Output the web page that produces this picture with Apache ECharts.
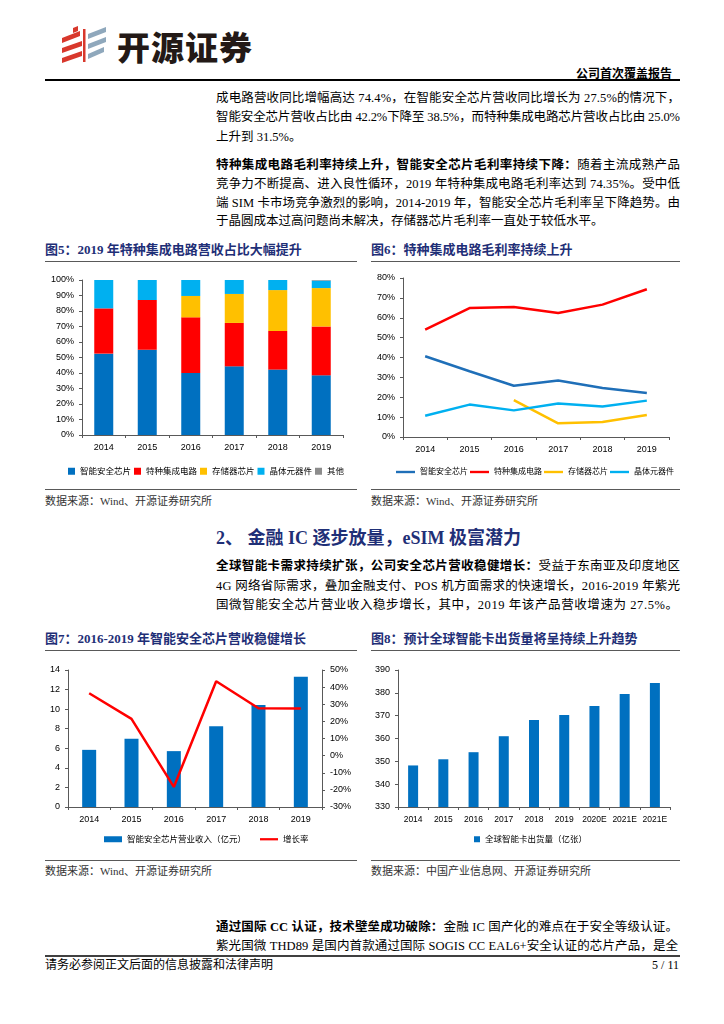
<!DOCTYPE html>
<html><head><meta charset="utf-8">
<script src="https://cdn.jsdelivr.net/npm/echarts@6/dist/echarts.min.js"></script>
<style>
html,body{margin:0;padding:0;background:#fff;}
#page{position:relative;width:724px;height:1024px;overflow:hidden;background:#fff;font-family:"Liberation Serif","Noto Sans CJK SC",serif;color:#000;}
.a{position:absolute;white-space:nowrap;}
.t{font-size:12.5px;line-height:18px;height:18px;left:216px;}
.t b{font-weight:700;}
.fig{font-size:13px;font-weight:700;color:#1F2F77;line-height:16px;}
.src{font-size:11px;color:#333;line-height:14px;}
.hr{position:absolute;height:0;border-top:1.5px solid #595959;}
.chart{position:absolute;}
</style>
</head>
<body>
<div id="page">
<svg class="a" style="left:0;top:0" width="120" height="80">
  <polygon points="62,38 80,31 80,36 62,43" fill="#D8382C"/>
  <polygon points="62,48 82,41 82,46 62,53" fill="#D8382C"/>
  <polygon points="62,58 82,51 82,56 62,63" fill="#D8382C"/>
  <polygon points="73,28 78,26 78,31 73,33" fill="#D8382C"/>
  <rect x="83" y="29" width="2.5" height="33" fill="#D8382C"/>
  <polygon points="88,34 106,27 106,32 88,39" fill="#8FA8BC"/>
  <polygon points="88,44 106,37 106,42 88,49" fill="#8FA8BC"/>
  <polygon points="88,54 104,47 104,52 88,59" fill="#8FA8BC"/>
</svg>
<div class="a" style="left:117px;top:24px;font-family:'Noto Sans CJK SC';font-weight:900;font-size:33px;line-height:44px;color:#231916;letter-spacing:1px;">开源证券</div>
<div class="a" style="right:52px;top:65px;font-family:'Noto Sans CJK SC';font-weight:700;font-size:12px;line-height:16px;">公司首次覆盖报告</div>
<div class="hr" style="left:45px;width:635px;top:79px;border-top:2px solid #000;"></div>

<div class="a t j" style="top:89px">成电路营收同比增幅高达 74.4%，在智能安全芯片营收同比增长为 27.5%的情况下，</div>
<div class="a t j" style="top:108px">智能安全芯片营收占比由 42.2%下降至 38.5%，而特种集成电路芯片营收占比由 25.0%</div>
<div class="a t" style="top:128px">上升到 31.5%。</div>
<div class="a t j" style="top:156px"><b>特种集成电路毛利率持续上升，智能安全芯片毛利率持续下降：</b>随着主流成熟产品</div>
<div class="a t j" style="top:175px">竞争力不断提高、进入良性循环，2019 年特种集成电路毛利率达到 74.35%。受中低</div>
<div class="a t j" style="top:194px">端 SIM 卡市场竞争激烈的影响，2014-2019 年，智能安全芯片毛利率呈下降趋势。由</div>
<div class="a t" style="top:212px">于晶圆成本过高问题尚未解决，存储器芯片毛利率一直处于较低水平。</div>

<div class="a fig" style="left:45px;top:242px">图5：2019 年特种集成电路营收占比大幅提升</div>
<div class="a fig" style="left:371px;top:242px">图6：特种集成电路毛利率持续上升</div>
<div class="hr" style="left:45px;width:312px;top:261px;"></div>
<div class="hr" style="left:371px;width:309px;top:261px;"></div>

<div id="c5" class="chart" style="left:40px;top:262px;width:325px;height:222px;"></div>
<div id="c6" class="chart" style="left:365px;top:262px;width:359px;height:222px;"></div>

<div class="hr" style="left:45px;width:312px;top:489px;"></div>
<div class="hr" style="left:371px;width:309px;top:489px;"></div>
<div class="a src" style="left:45px;top:494px">数据来源：Wind、开源证券研究所</div>
<div class="a src" style="left:371px;top:494px">数据来源：Wind、开源证券研究所</div>

<div class="a" style="left:216px;top:527px;font-size:18px;line-height:22px;font-weight:700;color:#1F2F77;">2、 金融 IC 逐步放量，eSIM 极富潜力</div>
<div class="a t j" style="top:557px"><b>全球智能卡需求持续扩张，公司安全芯片营收稳健增长：</b>受益于东南亚及印度地区</div>
<div class="a t j" style="top:577px">4G 网络省际需求，叠加金融支付、POS 机方面需求的快速增长，2016-2019 年紫光</div>
<div class="a t j" data-w="462" style="top:596px">国微智能安全芯片营业收入稳步增长，其中，2019 年该产品营收增速为 27.5%。</div>

<div class="a fig" style="left:45px;top:631px">图7：2016-2019 年智能安全芯片营收稳健增长</div>
<div class="a fig" style="left:371px;top:631px">图8：预计全球智能卡出货量将呈持续上升趋势</div>
<div class="hr" style="left:45px;width:312px;top:650px;"></div>
<div class="hr" style="left:371px;width:309px;top:650px;"></div>

<div id="c7" class="chart" style="left:40px;top:655px;width:325px;height:200px;"></div>
<div id="c8" class="chart" style="left:365px;top:655px;width:320px;height:200px;"></div>

<div class="hr" style="left:45px;width:312px;top:860px;"></div>
<div class="hr" style="left:371px;width:309px;top:860px;"></div>
<div class="a src" style="left:45px;top:864px">数据来源：Wind、开源证券研究所</div>
<div class="a src" style="left:371px;top:864px">数据来源：中国产业信息网、开源证券研究所</div>

<div class="a t j" data-w="462" style="top:918px"><b>通过国际 CC 认证，技术壁垒成功破除：</b>金融 IC 国产化的难点在于安全等级认证。</div>
<div class="a t j" data-w="462" style="top:937px">紫光国微 THD89 是国内首款通过国际 SOGIS CC EAL6+安全认证的芯片产品，是全</div>
<div class="hr" style="left:45px;width:635px;top:955px;border-top:2px solid #404040;"></div>
<div class="a" style="left:45px;top:957px;font-size:12px;line-height:16px;">请务必参阅正文后面的信息披露和法律声明</div>
<div class="a" style="right:45px;top:957px;font-size:12px;line-height:16px;">5 / 11</div>
</div>

<script>
// ---------- data ----------
const years = ['2014', '2015', '2016', '2017', '2018', '2019'];

// Fig 5: revenue mix (%)
const mixSecurity = [52.5, 55.0, 40.0, 44.3, 42.2, 38.5];
const mixSpecial  = [29.2, 32.1, 35.9, 28.0, 24.9, 31.5];
const mixMemory   = [0, 0, 13.8, 18.7, 26.4, 24.8];
const mixCrystal  = [18.3, 12.9, 10.3, 9.0, 6.5, 4.8];
const mixOther    = [0, 0, 0, 0, 0, 0.4];
const mixNames = ['智能安全芯片', '特种集成电路', '存储器芯片', '晶体元器件', '其他'];

// Fig 6: gross margin (%)
const gmSecurity = [40.6, 33.1, 25.8, 28.4, 24.7, 22.1];
const gmSpecial  = [54.0, 64.9, 65.4, 62.4, 66.6, 74.35];
const gmMemory   = ['-', '-', 18.5, 6.9, 7.6, 11.1];
const gmCrystal  = [10.7, 16.3, 13.4, 16.8, 15.4, 18.3];
const gmNames = ['智能安全芯片', '特种集成电路', '存储器芯片', '晶体元器件'];

// Fig 7: smart security chip revenue (亿元) & growth (%)
const secRevenue = [5.84, 6.97, 5.71, 8.26, 10.43, 13.32];
const secGrowth  = [36.4, 21.5, -18.3, 43.4, 27.7, 27.5];
const revName = '智能安全芯片营业收入（亿元）';
const growthName = '增长率';

// Fig 8: global smart card shipments (亿张)
const cardYears = ['2014', '2015', '2016', '2017', '2018', '2019', '2020E', '2021E', '2021E'];
const cardShip  = [348.2, 350.9, 354.0, 361.0, 368.1, 370.3, 374.2, 379.5, 384.3];
const shipName = '全球智能卡出货量（亿张）';

// ---------- text justification ----------
document.querySelectorAll('.j').forEach(el => {
  const target = +(el.dataset.w || 464);
  el.style.letterSpacing = '0px';
  const w = el.getBoundingClientRect().width;
  const n = el.textContent.length;
  el.style.letterSpacing = ((target - w) / (n - 1)) + 'px';
});

// ---------- charts ----------
const FONT = '"Liberation Sans","Noto Sans CJK SC",sans-serif';
const AX = '#595959';
const LINE_ICON = 'path://M0,0H20V2.5H0Z';
const axisLabel = (extra) => Object.assign({fontSize: 9, color: '#000', fontFamily: FONT}, extra || {});
const catAxis = (data, extra) => Object.assign({
  type: 'category', data: data,
  axisLine: {show: true, lineStyle: {color: AX, width: 1}},
  axisTick: {show: true, length: 3, lineStyle: {color: AX}},
  axisLabel: axisLabel({margin: 8, interval: 0}),
  splitLine: {show: false}
}, extra || {});
const valAxis = (extra) => Object.assign({
  type: 'value',
  axisLine: {show: true, lineStyle: {color: AX, width: 1}},
  axisTick: {show: true, length: 3, lineStyle: {color: AX}},
  splitLine: {show: false}
}, extra || {});

// Fig 5
const c5 = echarts.init(document.getElementById('c5'));
const mixColors = ['#0070C0', '#FF0000', '#FFC000', '#00B0F0', '#8C8C8C'];
const mixData = [mixSecurity, mixSpecial, mixMemory, mixCrystal, mixOther];
c5.setOption({
  animation: false,
  textStyle: {fontFamily: FONT},
  grid: {left: 42, top: 18, width: 261, height: 155},
  legend: {
    left: 23, top: 200, itemWidth: 7, itemHeight: 7, itemGap: 3, icon: 'rect',
    textStyle: {fontSize: 8.5, color: '#000', fontFamily: FONT},
    data: mixNames
  },
  xAxis: catAxis(years),
  yAxis: valAxis({min: 0, max: 100, interval: 10,
    axisLabel: axisLabel({formatter: '{value}%', margin: 8})}),
  series: mixNames.map((n, i) => ({
    name: n, type: 'bar', stack: 'mix', barWidth: 19,
    data: mixData[i], itemStyle: {color: mixColors[i]}
  }))
});

// Fig 6
const c6 = echarts.init(document.getElementById('c6'));
const gmColors = ['#1F6FB8', '#FF0000', '#FFC000', '#00B0F0'];
const gmData = [gmSecurity, gmSpecial, gmMemory, gmCrystal];
c6.setOption({
  animation: false,
  textStyle: {fontFamily: FONT},
  grid: {left: 38, top: 16, width: 266, height: 159},
  legend: {
    left: 26, top: 201, itemWidth: 19, itemHeight: 6, itemGap: 2, icon: LINE_ICON,
    textStyle: {fontSize: 8, color: '#000', fontFamily: FONT},
    data: gmNames
  },
  xAxis: catAxis(years),
  yAxis: valAxis({min: 0, max: 80, interval: 10,
    axisLabel: axisLabel({formatter: '{value}%', margin: 8})}),
  series: gmNames.map((n, i) => ({
    name: n, type: 'line', data: gmData[i], symbol: 'none', showSymbol: false,
    lineStyle: {color: gmColors[i], width: 2.5}, itemStyle: {color: gmColors[i]}
  }))
});

// Fig 7
const c7 = echarts.init(document.getElementById('c7'));
c7.setOption({
  animation: false,
  textStyle: {fontFamily: FONT},
  grid: {left: 28, top: 15, width: 254, height: 137},
  legend: {
    left: 59, top: 175, itemWidth: 18, itemHeight: 6, itemGap: 14,
    textStyle: {fontSize: 8.5, color: '#000', fontFamily: FONT},
    data: [{name: revName, icon: 'rect'}, {name: growthName, icon: LINE_ICON}]
  },
  xAxis: catAxis(years),
  yAxis: [
    valAxis({min: 0, max: 14, interval: 2, axisLabel: axisLabel({margin: 8})}),
    valAxis({min: -30, max: 50, interval: 10, position: 'right',
      axisLabel: axisLabel({formatter: '{value}%', margin: 8})})
  ],
  series: [
    {name: revName, type: 'bar', barWidth: 14, data: secRevenue, itemStyle: {color: '#0070C0'}},
    {name: growthName, type: 'line', yAxisIndex: 1, data: secGrowth, symbol: 'none', showSymbol: false,
      lineStyle: {color: '#FF0000', width: 2.5}, itemStyle: {color: '#FF0000'}}
  ]
});

// Fig 8
const c8 = echarts.init(document.getElementById('c8'));
c8.setOption({
  animation: false,
  textStyle: {fontFamily: FONT},
  grid: {left: 33, top: 15, width: 272, height: 137},
  legend: {
    left: 104, top: 175, itemWidth: 6, itemHeight: 6, icon: 'rect',
    textStyle: {fontSize: 8.5, color: '#000', fontFamily: FONT},
    data: [shipName]
  },
  xAxis: catAxis(cardYears, {axisLabel: axisLabel({margin: 8, interval: 0, fontSize: 8.5})}),
  yAxis: valAxis({min: 330, max: 390, interval: 10, axisLabel: axisLabel({margin: 8})}),
  series: [
    {name: shipName, type: 'bar', barWidth: 10, data: cardShip, itemStyle: {color: '#0070C0'}}
  ]
});
</script>
</body></html>
